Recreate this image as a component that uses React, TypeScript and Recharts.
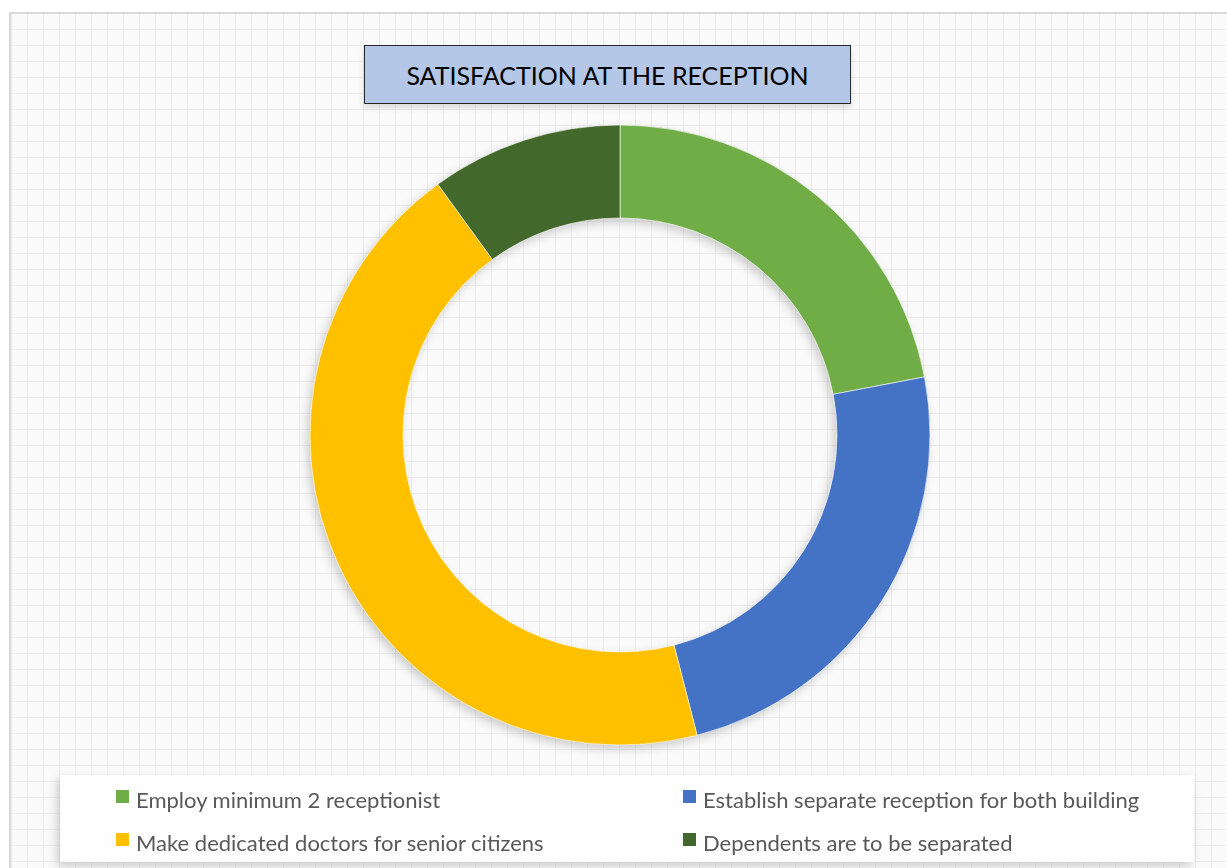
import { PieChart, Pie, Cell, Legend } from "recharts";

const categories = [
  "Employ minimum 2 receptionist",
  "Establish separate reception for both building",
  "Make dedicated doctors for senior citizens",
  "Dependents are to be separated",
];
const shares = [22, 24, 44, 10];
const colors = ["#70ad47", "#4472c4", "#ffc000", "#43682b"];
const chartTitle = "SATISFACTION AT THE RECEPTION";

const data = categories.map((name, i) => ({ name, value: shares[i] }));

const FONT = "Lato, 'Open Sans', sans-serif";

function LegendBox({ payload }: any) {
  // keep the data order (recharts sorts legend items by name otherwise)
  const items = [...(payload || [])].sort(
    (a: any, b: any) => categories.indexOf(a.value) - categories.indexOf(b.value)
  );
  return (
    <div
      style={{
        display: "grid",
        gridTemplateColumns: "567px 1fr",
        gridAutoRows: "43px",
        paddingLeft: 56,
        paddingTop: 12,
        fontFamily: FONT,
        fontSize: 22,
        color: "#595959",
      }}
    >
      {items.map((p: any) => (
        <div key={p.value} style={{ display: "flex", alignItems: "flex-start", lineHeight: "26px" }}>
          <span
            style={{
              width: 13,
              height: 13,
              marginTop: 3,
              marginRight: 7,
              background: p.color,
              flex: "none",
            }}
          />
          <span>{p.value}</span>
        </div>
      ))}
    </div>
  );
}

export default function App() {
  return (
    <div
      style={{
        position: "absolute",
        left: 0,
        top: 0,
        width: 1227,
        height: 868,
        overflow: "hidden",
        background: "#ffffff",
      }}
    >
      {/* chart frame with the faint grid texture */}
      <div
        style={{
          position: "absolute",
          left: 9,
          top: 12,
          width: 1240,
          height: 880,
          borderLeft: "2px solid #d9d9d9",
          borderTop: "2px solid #d9d9d9",
          backgroundColor: "#fafafa",
          backgroundImage:
            "repeating-linear-gradient(90deg, #ededed 0 1px, transparent 1px 16px), repeating-linear-gradient(0deg, #ededed 0 1px, transparent 1px 16px)",
        }}
      />

      <div style={{ position: "absolute", left: 0, top: 0, filter: "drop-shadow(-3px 4px 5px rgba(0,0,0,0.18))" }}>
        <PieChart width={1227} height={868} margin={{ top: 0, right: 0, bottom: 0, left: 0 }}>
          <Pie
            data={data}
            dataKey="value"
            nameKey="name"
            cx={620}
            cy={435}
            innerRadius={217}
            outerRadius={310}
            startAngle={90}
            endAngle={-270}
            stroke="rgba(255,255,255,0.6)"
            strokeWidth={1}
            isAnimationActive={false}
          >
            {data.map((d, i) => (
              <Cell key={d.name} fill={colors[i]} />
            ))}
          </Pie>
          <Legend
            content={<LegendBox />}
            wrapperStyle={{
              left: 60,
              top: 775,
              width: 1134,
              height: 87,
              background: "#fefefe",
            }}
          />
        </PieChart>
      </div>

      {/* title box */}
      <div
        style={{
          position: "absolute",
          left: 364,
          top: 45,
          width: 485,
          height: 57,
          background: "#b4c7e7",
          border: "1px solid #262626",
          boxShadow: "0 4px 6px rgba(0,0,0,0.12)",
          display: "flex",
          alignItems: "center",
          justifyContent: "center",
          fontFamily: FONT,
          fontSize: 25,
          color: "#000",
          whiteSpace: "nowrap",
        }}
      >
        {chartTitle}
      </div>
    </div>
  );
}
